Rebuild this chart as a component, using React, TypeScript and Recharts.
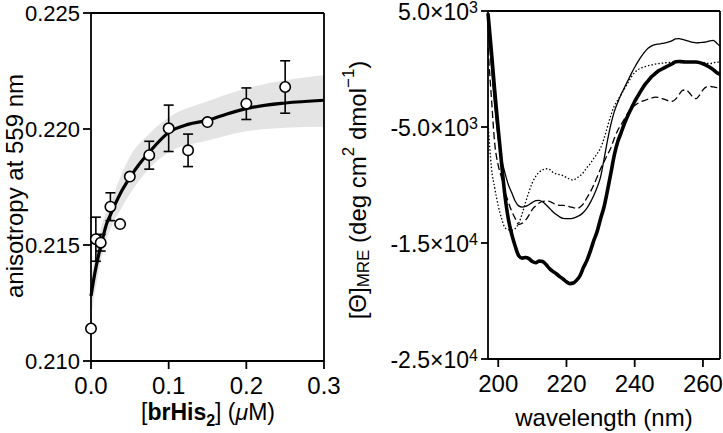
import React from "react";
import {
  Area,
  ComposedChart,
  ErrorBar,
  Label,
  Line,
  ReferenceLine,
  Scatter,
  XAxis,
  YAxis,
} from "recharts";

const FONT = '"Liberation Sans", Arial, Helvetica, sans-serif';

// --- left panel: anisotropy titration ---
const conc = [0, 0.00625, 0.0125, 0.025, 0.0375, 0.05, 0.075, 0.1, 0.125, 0.15, 0.2, 0.25];
const aniso = [0.2114, 0.21525, 0.2151, 0.21665, 0.2159, 0.21795, 0.21887, 0.22003, 0.21908, 0.2203, 0.22109, 0.22181];
const anisoErr = [0, 0.00095, 0.00036, 0.0006, 0, 0, 0.0006, 0.001, 0.0007, 0, 0.00068, 0.00113];

const fitX = [0, 0.005, 0.01, 0.015, 0.02, 0.025, 0.0375, 0.05, 0.0625, 0.075, 0.1, 0.125, 0.15, 0.175, 0.2, 0.25, 0.3];
const fitY = [0.2128, 0.2138, 0.2146, 0.21528, 0.2159, 0.2163, 0.2172, 0.2179, 0.2185, 0.219, 0.21985, 0.2202, 0.22037, 0.22065, 0.22088, 0.22112, 0.22124];

const bandX = [0, 0.0125, 0.025, 0.0375, 0.05, 0.075, 0.1, 0.15, 0.2, 0.25, 0.3];
const bandLo = [0.2119, 0.2143, 0.2157, 0.2165, 0.2172, 0.2183, 0.219, 0.2195, 0.2199, 0.22005, 0.2201];
const bandHi = [0.2136, 0.2157, 0.2168, 0.2179, 0.2188, 0.2198, 0.2205, 0.2212, 0.22175, 0.2221, 0.22232];

const anisoTicks = [0.21, 0.215, 0.22, 0.225];
const concTicks = [0, 0.1, 0.2, 0.3];

// --- right panel: CD spectra ---
const wavelength = [
  197, 198, 199, 200, 201, 202, 203, 204, 205, 206, 207, 208, 209, 210, 211, 212, 213, 214, 215, 216, 217, 218, 219,
  220, 221, 222, 223, 224, 225, 226, 227, 228, 229, 230, 231, 232, 233, 234, 235, 236, 237, 238, 239, 240, 241, 242,
  243, 244, 245, 246, 247, 248, 249, 250, 251, 252, 253, 254, 255, 256, 257, 258, 259, 260, 261, 262, 263, 264, 265,
];
const cdThick = [
  4800, 1500, -2000, -5200, -8200, -11000, -13000, -14300, -15300, -16100, -16300, -16250, -16350, -16600, -16700,
  -16550, -16600, -16850, -17200, -17450, -17650, -17900, -18100, -18350, -18500, -18450, -18200, -17800, -17100,
  -16500, -15700, -14800, -14000, -12900, -11900, -10500, -9000, -7450, -6300, -5500, -4700, -4000, -3400, -2800,
  -2300, -1800, -1350, -1000, -650, -400, -150, 0, 150, 300, 450, 620, 650, 620, 600, 600, 600, 600, 550, 450, 320,
  150, -50, -300, -450,
];
const cdThin = [
  3800, 200, -3300, -6000, -7800, -9000, -10000, -10700, -11400, -11800, -11900, -11850, -11700, -11500, -11350,
  -11320, -11450, -11700, -12000, -12300, -12550, -12750, -12880, -12900, -12900, -12850, -12750, -12600, -12350,
  -12000, -11500, -10900, -10200, -9300, -7800, -6200, -4800, -3700, -2900, -2200, -1600, -1000, -400, 150, 650,
  1100, 1500, 1800, 2000, 2100, 2150, 2200, 2250, 2330, 2450, 2600, 2620, 2550, 2470, 2380, 2300, 2250, 2270, 2300,
  2330, 2420, 2470, 2250, 1950,
];
const cdDashed = [
  1800, -2500, -6500, -8300, -9400, -10600, -11500, -12300, -12900, -13400, -13300, -13040, -12600, -12100, -11800,
  -11550, -11420, -11380, -11420, -11550, -11700, -11750, -11750, -11800, -11880, -11950, -12030, -11900, -11600,
  -11100, -10600, -10000, -9300, -8600, -8000, -7400, -6800, -6000, -5300, -4800, -4300, -3800, -3400, -3150, -2950,
  -2800, -2700, -2600, -2500, -2420, -2450, -2550, -2650, -2750, -2780, -2600, -2200, -1850, -1800, -2050, -2400,
  -2550, -2250, -1800, -1550, -1500, -1550, -1600, -1600,
];
const cdDotted = [
  -4500, -8500, -10300, -11800, -12900, -13700, -13850, -13900, -13750, -13300, -12500, -11500, -10600, -9800, -9250,
  -8900, -8700, -8600, -8650, -8900, -9050, -9100, -9200, -9350, -9500, -9580, -9400, -9200, -8900, -8500, -8150,
  -7700, -7300, -6800, -6000, -5000, -4000, -3200, -2700, -2200, -1700, -1200, -700, -300, -50, 100, 200, 300, 350,
  420, 460, 500, 540, 570, 600, 620, 640, 650, 660, 650, 630, 610, 600, 560, 500, 470, 520, 600, 600,
];
const cdTicks = [-25000, -15000, -5000, 5000];
const wlTicks = [200, 220, 240, 260];

const pointRows = conc.map((x, i) => ({ x, y: aniso[i], err: anisoErr[i] }));
const fitRows = fitX.map((x, i) => ({ x, fit: fitY[i] }));
const bandRows = bandX.map((x, i) => ({ x, band: [bandLo[i], bandHi[i]] }));
const cdRows = wavelength.map((nm, i) => ({
  nm,
  thick: cdThick[i],
  thin: cdThin[i],
  dashed: cdDashed[i],
  dotted: cdDotted[i],
}));

const axisStyle = { stroke: "#000", strokeWidth: 1.8 };

function SciTick({ x, y, payload }: any) {
  const v = payload.value as number;
  const exp = Math.floor(Math.log10(Math.abs(v)));
  const m = v / 10 ** exp;
  return (
    <text x={x} y={y} textAnchor="end" dy="0.4em" fontSize={23} fontFamily={FONT} fill="#000">
      {`${m.toFixed(1)}×10`}
      <tspan dy="-0.42em" fontSize={16}>
        {exp}
      </tspan>
    </text>
  );
}

function Circle({ cx, cy }: any) {
  return <circle cx={cx} cy={cy} r={5.2} fill="#fff" stroke="#000" strokeWidth={1.6} />;
}

function AnisotropyPanel() {
  return (
    <ComposedChart width={360} height={433} margin={{ top: 13, right: 36, bottom: 32, left: 31 }}>
      <XAxis
        type="number"
        dataKey="x"
        domain={[0, 0.3]}
        ticks={concTicks}
        tickFormatter={(v: number) => v.toFixed(1)}
        axisLine={axisStyle}
        tickLine={axisStyle}
        tickSize={8}
        tickMargin={8}
        height={40}
        tick={{ fill: "#000", fontSize: 24, fontFamily: FONT }}
      >
        <Label
          content={() => (
            <text x={208} y={420} textAnchor="middle" fontSize={23} fontFamily={FONT} fill="#000">
              [<tspan fontWeight="bold">brHis</tspan>
              <tspan fontWeight="bold" fontSize={16} dy={6}>
                2
              </tspan>
              <tspan dy={-6}>] (</tspan>
              <tspan fontStyle="italic">μ</tspan>M)
            </text>
          )}
        />
      </XAxis>
      <YAxis
        type="number"
        domain={[0.21, 0.225]}
        ticks={anisoTicks}
        tickFormatter={(v: number) => v.toFixed(3)}
        axisLine={axisStyle}
        tickLine={axisStyle}
        tickSize={8}
        tickMargin={3}
        width={60}
        tick={{ fill: "#000", fontSize: 22, fontFamily: FONT }}
      >
        <Label
          content={() => (
            <text
              x={14}
              y={186}
              transform="rotate(-90, 14, 186)"
              textAnchor="middle"
              dominantBaseline="central"
              fontSize={24}
              fontFamily={FONT}
              fill="#000"
            >
              anisotropy at 559 nm
            </text>
          )}
        />
      </YAxis>
      <ReferenceLine y={0.225} stroke="#000" strokeWidth={1.8} />
      <ReferenceLine x={0.3} stroke="#000" strokeWidth={1.8} />
      <Area
        data={bandRows}
        dataKey="band"
        type="monotone"
        fill="#e4e4e4"
        fillOpacity={1}
        stroke="none"
        isAnimationActive={false}
      />
      <Line
        data={fitRows}
        dataKey="fit"
        type="monotone"
        stroke="#000"
        strokeWidth={3.2}
        dot={false}
        isAnimationActive={false}
      />
      <Scatter data={pointRows} dataKey="y" shape={() => <g />} isAnimationActive={false}>
        <ErrorBar dataKey="err" direction="y" width={5} stroke="#000" strokeWidth={1.6} />
      </Scatter>
      <Scatter data={pointRows} dataKey="y" shape={Circle} isAnimationActive={false} />
    </ComposedChart>
  );
}

function CdPanel() {
  return (
    <ComposedChart width={383} height={433} data={cdRows} margin={{ top: 11, right: 3, bottom: 34, left: 48 }}>
      <XAxis
        type="number"
        dataKey="nm"
        domain={[197, 265]}
        ticks={wlTicks}
        axisLine={axisStyle}
        tickLine={axisStyle}
        tickSize={8}
        tickMargin={8}
        height={40}
        tick={{ fill: "#000", fontSize: 24, fontFamily: FONT }}
      >
        <Label
          content={() => (
            <text x={264} y={426} textAnchor="middle" fontSize={24} fontFamily={FONT} fill="#000">
              wavelength (nm)
            </text>
          )}
        />
      </XAxis>
      <YAxis
        type="number"
        domain={[-25000, 5000]}
        ticks={cdTicks}
        axisLine={axisStyle}
        tickLine={axisStyle}
        tickSize={7}
        tickMargin={3}
        width={100}
        tick={<SciTick />}
      >
        <Label
          content={() => (
            <text
              x={17}
              y={190}
              transform="rotate(-90, 17, 190)"
              textAnchor="middle"
              dominantBaseline="central"
              fontSize={24}
              fontFamily={FONT}
              fill="#000"
            >
              [Θ]
              <tspan fontSize={17} dy={6}>
                MRE
              </tspan>
              <tspan dy={-6}> (deg cm</tspan>
              <tspan fontSize={17} dy={-9}>
                2
              </tspan>
              <tspan dy={9}> dmol</tspan>
              <tspan fontSize={17} dy={-9}>
                −1
              </tspan>
              <tspan dy={9}>)</tspan>
            </text>
          )}
        />
      </YAxis>
      <ReferenceLine y={5000} stroke="#000" strokeWidth={1.8} />
      <ReferenceLine x={265} stroke="#000" strokeWidth={1.8} />
      <Line dataKey="dotted" type="monotone" stroke="#000" strokeWidth={1.3} strokeDasharray="1.5 2" dot={false} isAnimationActive={false} />
      <Line dataKey="dashed" type="monotone" stroke="#000" strokeWidth={1.3} strokeDasharray="7 3.5" dot={false} isAnimationActive={false} />
      <Line dataKey="thin" type="monotone" stroke="#000" strokeWidth={1.3} dot={false} isAnimationActive={false} />
      <Line dataKey="thick" type="monotone" stroke="#000" strokeWidth={3.6} dot={false} isAnimationActive={false} />
    </ComposedChart>
  );
}

export default function App() {
  return (
    <div style={{ position: "absolute", left: 0, top: 0, width: 723, height: 433, background: "#fff" }}>
      <div style={{ position: "absolute", left: 0, top: 0 }}>
        <AnisotropyPanel />
      </div>
      <div style={{ position: "absolute", left: 340, top: 0 }}>
        <CdPanel />
      </div>
    </div>
  );
}
